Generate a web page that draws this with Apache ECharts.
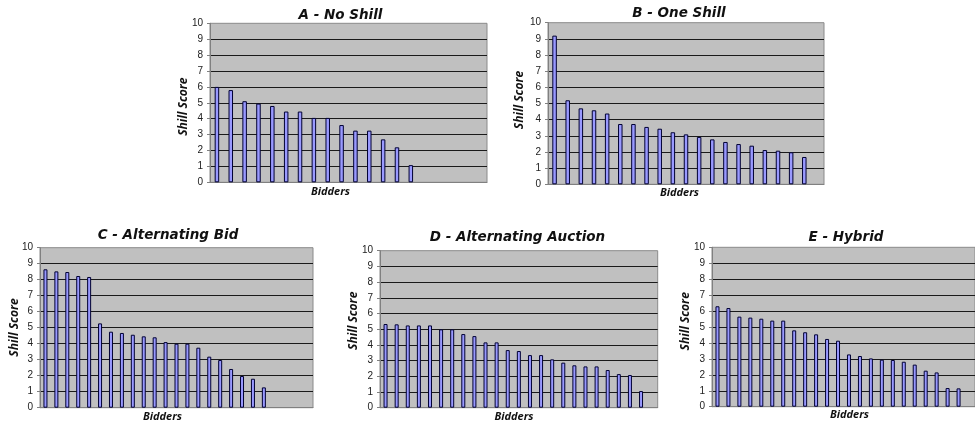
<!DOCTYPE html>
<html>
<head>
<meta charset="utf-8">
<script src="https://cdn.jsdelivr.net/npm/echarts@6/dist/echarts.min.js"></script>
<style>
html,body{margin:0;padding:0;background:#fff;}
#chart{width:975px;height:425px;}
</style>
</head>
<body>
<div id="chart"></div>
<script>
// ---- data ----
const panelTitles = ['A - No Shill', 'B - One Shill', 'C - Alternating Bid', 'D - Alternating Auction', 'E - Hybrid'];
const yAxisName = 'Shill Score';
const xAxisName = 'Bidders';
const yTicks = [0, 1, 2, 3, 4, 5, 6, 7, 8, 9, 10];

const categoriesA = ['1','2','3','4','5','6','7','8','9','10','11','12','13','14','15','16','17','18','19','20'];
const categoriesB = ['1','2','3','4','5','6','7','8','9','10','11','12','13','14','15','16','17','18','19','20','21'];
const categoriesC = ['1','2','3','4','5','6','7','8','9','10','11','12','13','14','15','16','17','18','19','20','21','22','23','24','25'];
const categoriesD = ['1','2','3','4','5','6','7','8','9','10','11','12','13','14','15','16','17','18','19','20','21','22','23','24','25'];
const categoriesE = ['1','2','3','4','5','6','7','8','9','10','11','12','13','14','15','16','17','18','19','20','21','22','23','24'];

const scoresA = [6.0, 5.8, 5.1, 4.95, 4.8, 4.45, 4.45, 4.05, 4.05, 3.6, 3.25, 3.25, 2.7, 2.2, 1.08];
const scoresB = [9.2, 5.2, 4.7, 4.58, 4.38, 3.73, 3.73, 3.55, 3.44, 3.22, 3.09, 2.93, 2.78, 2.62, 2.49, 2.39, 2.12, 2.08, 1.98, 1.69];
const scoresC = [8.65, 8.52, 8.48, 8.23, 8.17, 5.27, 4.75, 4.67, 4.56, 4.46, 4.4, 4.1, 4.0, 4.0, 3.75, 3.19, 2.98, 2.42, 1.98, 1.81, 1.27];
const scoresD = [5.33, 5.31, 5.24, 5.24, 5.24, 4.99, 4.99, 4.69, 4.56, 4.16, 4.16, 3.67, 3.61, 3.35, 3.35, 3.08, 2.87, 2.70, 2.63, 2.63, 2.40, 2.14, 2.08, 1.06];
const scoresE = [6.3, 6.19, 5.65, 5.59, 5.52, 5.4, 5.4, 4.79, 4.67, 4.54, 4.25, 4.14, 3.28, 3.18, 3.03, 2.95, 2.93, 2.82, 2.64, 2.26, 2.15, 1.17, 1.15];

// ---- layout ----
const categories = [categoriesA, categoriesB, categoriesC, categoriesD, categoriesE];
const scores = [scoresA, scoresB, scoresC, scoresD, scoresE];
const grids = [
  {left: 210, top: 23.3, width: 277, height: 159},
  {left: 548, top: 22.7, width: 276, height: 161.6},
  {left: 40, top: 247.7, width: 273, height: 160},
  {left: 380, top: 250.7, width: 277.7, height: 157},
  {left: 712, top: 247.3, right: 0, height: 159.4}
];
const titlePos = [[340.5, 15], [679, 13.5], [168, 235.5], [517.5, 237], [846, 237.5]];
const xNamePos = [[330.5, 192], [679.5, 193], [162.5, 417], [514, 417], [849.5, 415]];
const yNamePos = [[183.3, 106.7], [520, 100], [15, 327.5], [353.3, 320.8], [686, 321.3]];
const barWidths = [4.5, 4.5, 4, 4, 4];

const option = {
  animation: false,
  backgroundColor: '#ffffff',
  grid: grids.map(g => Object.assign({show: true, backgroundColor: '#c0c0c0', borderColor: '#8a8a8a', borderWidth: 1, containLabel: false}, g)),
  xAxis: categories.map((c, i) => ({
    type: 'category', gridIndex: i, data: c,
    axisLine: {show: true, lineStyle: {color: '#808080', width: 1}},
    axisTick: {show: false}, axisLabel: {show: false}, splitLine: {show: false}
  })),
  yAxis: scores.map((s, i) => ({
    type: 'value', gridIndex: i, min: yTicks[0], max: yTicks[yTicks.length - 1], interval: 1,
    axisLine: {show: true, lineStyle: {color: '#808080', width: 1}},
    axisTick: {show: true, length: 3, inside: false, lineStyle: {color: '#808080'}},
    axisLabel: {show: true, margin: 7, fontFamily: 'Liberation Sans', fontSize: 10, color: '#222',
      formatter: v => (yTicks.indexOf(v) >= 0 ? String(v) : '')},
    splitLine: {show: true, showMinLine: false, showMaxLine: false, lineStyle: {color: '#1a1a1a', width: 1}}
  })),
  series: scores.map((s, i) => ({
    type: 'bar', xAxisIndex: i, yAxisIndex: i, data: s, barWidth: barWidths[i],
    itemStyle: {color: '#9999ff', borderColor: '#000033', borderWidth: 1}
  })),
  graphic: [].concat(
    panelTitles.map((t, i) => ({
      type: 'text', x: titlePos[i][0], y: titlePos[i][1], z: 10,
      style: {text: t, font: 'italic bold 13.5px "DejaVu Sans"', fill: '#111', textAlign: 'center', textVerticalAlign: 'middle'}
    })),
    panelTitles.map((t, i) => ({
      type: 'text', x: xNamePos[i][0], y: xNamePos[i][1], z: 10,
      style: {text: xAxisName, font: 'italic bold 11px "Open Sans"', fill: '#111', textAlign: 'center', textVerticalAlign: 'middle'}
    })),
    panelTitles.map((t, i) => ({
      type: 'text', x: yNamePos[i][0], y: yNamePos[i][1], rotation: Math.PI / 2, z: 10,
      style: {text: yAxisName, font: 'italic bold 12px "Open Sans"', fill: '#111', textAlign: 'center', textVerticalAlign: 'middle'}
    }))
  )
};
const chart = echarts.init(document.getElementById('chart'), null, {renderer: 'canvas'});
chart.setOption(option);
</script>
</body>
</html>
